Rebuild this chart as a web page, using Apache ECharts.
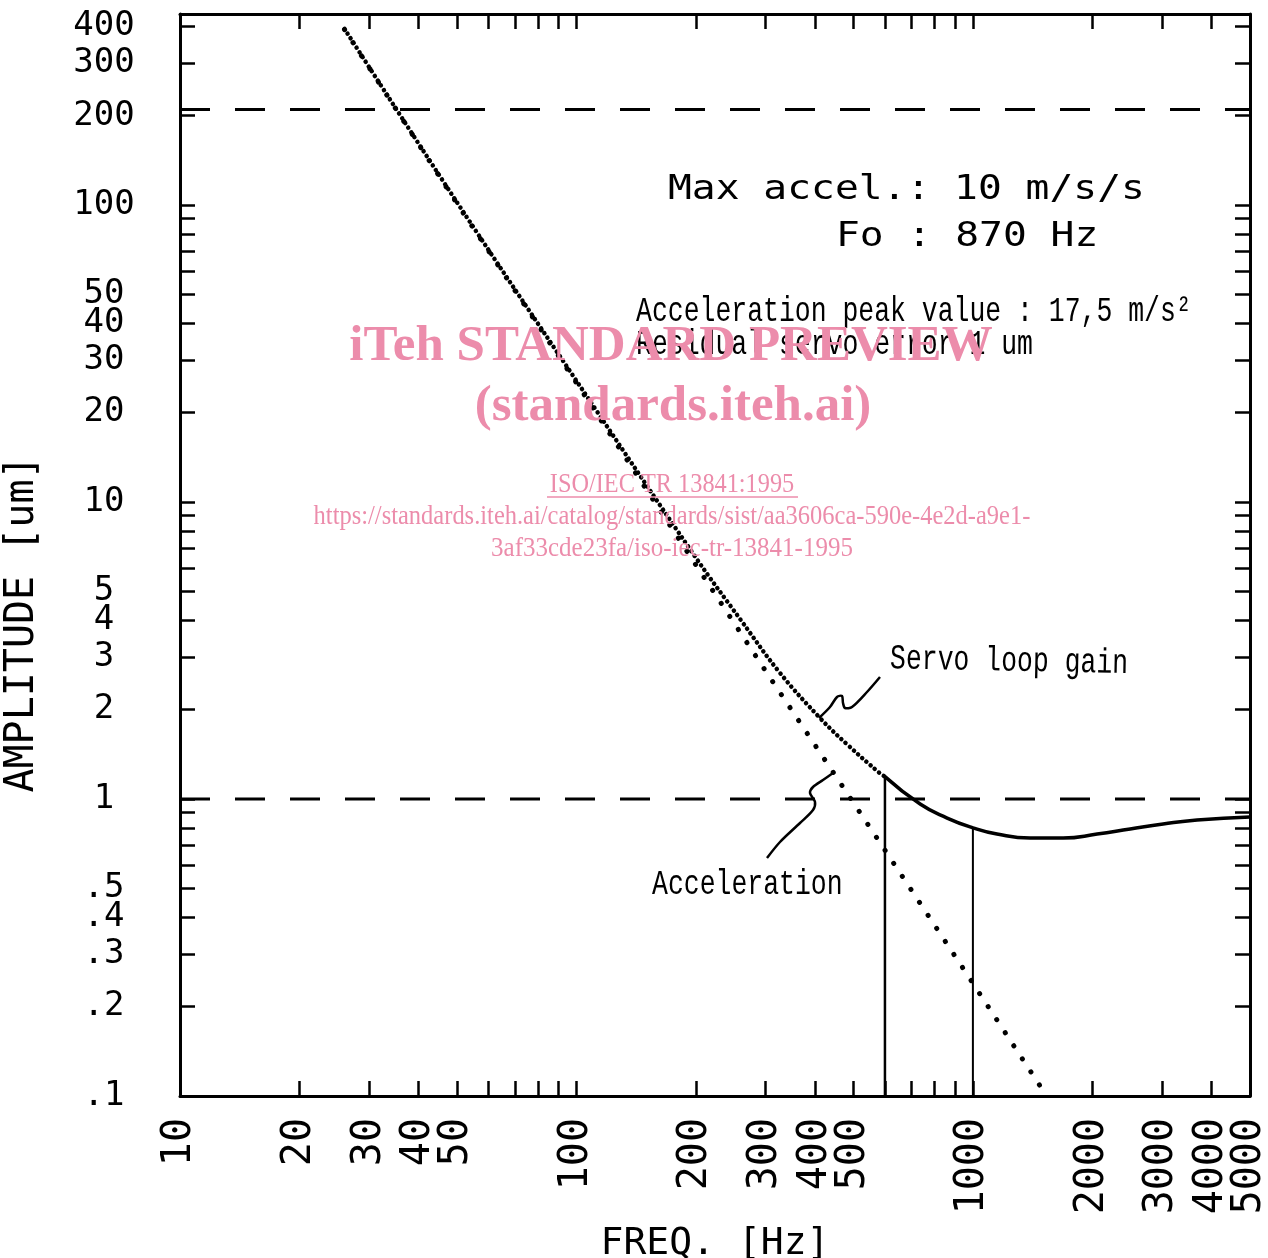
<!DOCTYPE html>
<html>
<head>
<meta charset="utf-8">
<script src="https://cdn.jsdelivr.net/npm/echarts@6/dist/echarts.min.js"></script>
<style>html,body{margin:0;padding:0;background:#fff}#c{width:1268px;height:1258px}</style>
</head>
<body>
<div id="c"></div>
<script>
// ---- data ----
const xTickValues = [20,30,40,50,60,70,80,90,100,200,300,400,500,600,700,800,900,1000,2000,3000,4000];
const xLabelValues = [10,20,30,40,50,100,200,300,400,500,1000,2000,3000,4000,5000];
const yTickValues = [0.2,0.3,0.4,0.5,0.6,0.7,0.8,0.9,1,2,3,4,5,6,7,8,9,10,20,30,40,50,60,70,80,90,100,200,300,400];
const yLabelValues = [0.1,0.2,0.3,0.4,0.5,1,2,3,4,5,10,20,30,40,50,100,200,300,400];
const yLabelTexts = ['.1','.2','.3','.4','.5','1','2','3','4','5','10','20','30','40','50','100','200','300','400'];

const accelFreq = [26, 50, 100, 200, 300, 572, 972, 1520];
const accelAmp  = [390, 101, 25.2, 6.15, 2.70, 0.741, 0.254, 0.102];

const gainDotFreq = [26, 50, 100, 200, 260, 326, 412, 481, 583, 600];
const gainDotAmp  = [392, 102, 25.6, 6.5, 4.0, 2.66, 1.87, 1.53, 1.22, 1.19];

const gainSolidFreq = [600, 736, 861, 1000, 1150, 1394, 1689, 2058, 2493, 3019, 3678, 5000];
const gainSolidAmp  = [1.19, 0.962, 0.863, 0.80, 0.762, 0.739, 0.739, 0.762, 0.793, 0.824, 0.85, 0.87];

const limitFreq = [10, 5000];
const upperLimit = [210, 210];
const lowerLimit = [1, 1];

const marker1Freq = [600, 600];
const marker1Amp  = [0.1, 1.19];
const marker2Freq = [1000, 1000];
const marker2Amp  = [0.1, 0.80];

const zip = (a, b) => a.map((v, i) => [v, b[i]]);

// ---- chart ----
const chart = echarts.init(document.getElementById('c'), null, {renderer: 'canvas'});
const PLOT = 'DejaVu Sans Mono, monospace';
const TYPE = 'Liberation Mono, monospace';
const PINK = '#ec8cab';

function axisCommon(show) {
  return {
    type: 'log', logBase: 10,
    axisLine: {show: true, lineStyle: {color: '#000', width: 3}},
    axisTick: {show: true, inside: true, length: 15, lineStyle: {color: '#000', width: 2.5}},
    splitLine: {show: false},
    minorTick: {show: false},
    axisLabel: {show: show}
  };
}
function xLabelStyle(values) {
  return {show: true, rotate: 90, margin: 22, color: '#000', fontFamily: PLOT, fontSize: 40,
    showMinLabel: true, showMaxLabel: true, interval: 0,
    customValues: values, formatter: v => String(Math.round(v))};
}

const xBottom = Object.assign(axisCommon(true), {
  position: 'bottom', min: 10, max: 5000,
  name: 'FREQ. [Hz]', nameLocation: 'middle', nameGap: 129, nameMoveOverlap: false,
  nameTextStyle: {fontFamily: PLOT, fontSize: 38, color: '#000'},
  axisLabel: xLabelStyle(xLabelValues.slice(0, -1))
});
xBottom.axisTick.customValues = xTickValues;
// last bottom label (5000) on an overlay axis so the label de-overlap does not drop 4000
const xBottomLast = {
  type: 'log', logBase: 10, position: 'bottom', min: 10, max: 5000,
  axisLine: {show: false}, axisTick: {show: false}, splitLine: {show: false},
  axisLabel: xLabelStyle(xLabelValues.slice(-1))
};
const xTop = Object.assign(axisCommon(false), {position: 'top', min: 10, max: 5000});
xTop.axisTick.customValues = xTickValues;

function yFmt(v) {
  let best = 0, bd = Infinity;
  yLabelValues.forEach((t, i) => { const d = Math.abs(Math.log10(t) - Math.log10(v)); if (d < bd) { bd = d; best = i; } });
  return yLabelTexts[best];
}
const yLeft = Object.assign(axisCommon(true), {
  position: 'left', min: 0.1, max: 440,
  name: 'AMPLITUDE [um]', nameLocation: 'middle', nameGap: 137, nameRotate: 90, nameMoveOverlap: false,
  nameTextStyle: {fontFamily: PLOT, fontSize: 40, color: '#000', padding: [0, 138, 0, 0]},
  axisLabel: {show: true, margin: 76, align: 'center', color: '#000', fontFamily: PLOT, fontSize: 34, lineHeight: 26,
    showMinLabel: true, showMaxLabel: true,
    customValues: yLabelValues, formatter: yFmt}
});
yLeft.axisTick.customValues = yTickValues;
const yRight = Object.assign(axisCommon(false), {position: 'right', min: 0.1, max: 440});
yRight.axisTick.customValues = yTickValues;

function lineSeries(name, data, style, smooth) {
  return {name, type: 'line', xAxisIndex: 0, yAxisIndex: 0, data, showSymbol: false, symbol: 'none',
    smooth: smooth || false, lineStyle: Object.assign({color: '#000'}, style), silent: true, z: 3};
}

const dash = [30, 25];
const option = {
  animation: false,
  backgroundColor: '#fff',
  grid: {left: 180, right: 18, top: 14, bottom: 162, outerBoundsMode: 'none', containLabel: false},
  xAxis: [xBottom, xTop, xBottomLast],
  yAxis: [yLeft, yRight],
  series: [
    lineSeries('Upper limit', zip(limitFreq, upperLimit), {type: dash, width: 3}),
    lineSeries('Residual error', zip(limitFreq, lowerLimit), {type: dash, width: 3}),
    lineSeries('Acceleration', zip(accelFreq, accelAmp), {type: [0.1, 15.5], cap: 'round', width: 5}),
    lineSeries('Servo loop gain (dotted)', zip(gainDotFreq, gainDotAmp), {type: [0.1, 5.5], cap: 'round', width: 4.5}, 0.4),
    lineSeries('Servo loop gain', zip(gainSolidFreq, gainSolidAmp), {type: 'solid', width: 3.5}, 0.5),
    lineSeries('Marker 600 Hz', zip(marker1Freq, marker1Amp), {type: 'solid', width: 2.5}),
    lineSeries('Marker 1000 Hz', zip(marker2Freq, marker2Amp), {type: 'solid', width: 2})
  ],
  graphic: [
    {type: 'text', x: 668, y: 190, scaleX: 1.2, style: {text: 'Max accel.: 10 m/s/s', fill: '#000', font: '33px ' + PLOT, textVerticalAlign: 'middle'}},
    {type: 'text', x: 836, y: 237, scaleX: 1.2, style: {text: 'Fo : 870 Hz', fill: '#000', font: '33px ' + PLOT, textVerticalAlign: 'middle'}},
    {type: 'text', x: 636, y: 312, scaleX: 0.756, style: {text: 'Acceleration peak value : 17,5 m/s²', fill: '#000', font: '35px ' + TYPE, textVerticalAlign: 'middle'}},
    {type: 'text', x: 636, y: 345, scaleX: 0.756, style: {text: 'Residual servo error 1 um', fill: '#000', font: '35px ' + TYPE, textVerticalAlign: 'middle'}},
    {type: 'text', x: 890, y: 659, rotation: -0.02, scaleX: 0.756, style: {text: 'Servo loop gain', fill: '#000', font: '35px ' + TYPE, textVerticalAlign: 'middle'}},
    {type: 'text', x: 652, y: 885, scaleX: 0.756, style: {text: 'Acceleration', fill: '#000', font: '35px ' + TYPE, textVerticalAlign: 'middle'}},
    {type: 'polyline', shape: {points: [[819,718],[830,707],[837,697],[842,696],[843,703],[845,708],[852,707],[867,692],[880,677]], smooth: 0.3},
      style: {stroke: '#000', lineWidth: 2.5, fill: null}},
    {type: 'polyline', shape: {points: [[767,858],[780,842],[800,823],[813,810],[815,802],[810,793],[813,787],[823,780],[833,773]], smooth: 0.3},
      style: {stroke: '#000', lineWidth: 2.5, fill: null}},
    // watermark
    {type: 'text', x: 671, y: 347, z: 10, style: {text: 'iTeh STANDARD PREVIEW', fill: PINK, font: 'bold 51px Liberation Serif, serif', textAlign: 'center', textVerticalAlign: 'middle'}},
    {type: 'text', x: 673, y: 407, z: 10, style: {text: '(standards.iteh.ai)', fill: PINK, font: 'bold 51px Liberation Serif, serif', textAlign: 'center', textVerticalAlign: 'middle'}},
    {type: 'text', x: 672, y: 485, z: 10, scaleX: 0.9, style: {text: 'ISO/IEC TR 13841:1995', fill: PINK, font: '27px Liberation Serif, serif', textAlign: 'center', textVerticalAlign: 'middle'}},
    {type: 'line', z: 10, shape: {x1: 547, y1: 497, x2: 798, y2: 497}, style: {stroke: PINK, lineWidth: 1.5}},
    {type: 'text', x: 672, y: 517, z: 10, scaleX: 0.907, style: {text: 'https://standards.iteh.ai/catalog/standards/sist/aa3606ca-590e-4e2d-a9e1-', fill: PINK, font: '27px Liberation Serif, serif', textAlign: 'center', textVerticalAlign: 'middle'}},
    {type: 'text', x: 672, y: 549, z: 10, scaleX: 0.926, style: {text: '3af33cde23fa/iso-iec-tr-13841-1995', fill: PINK, font: '27px Liberation Serif, serif', textAlign: 'center', textVerticalAlign: 'middle'}}
  ]
};
chart.setOption(option);
</script>
</body>
</html>
